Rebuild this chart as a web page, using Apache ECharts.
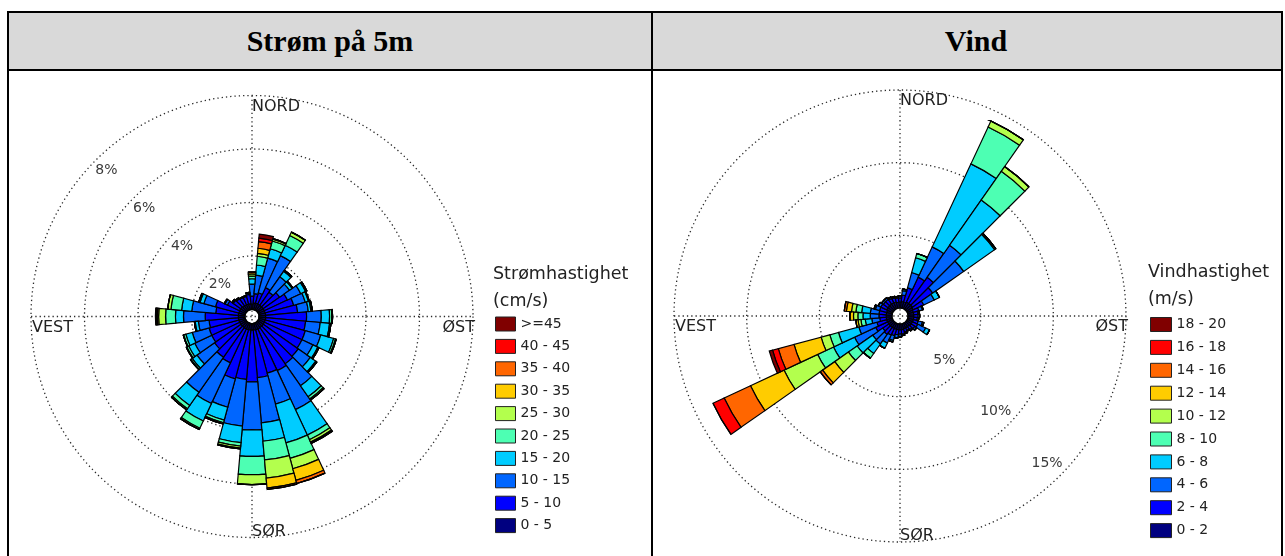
<!DOCTYPE html>
<html>
<head>
<meta charset="utf-8">
<title>Strøm og vind</title>
<script src="https://cdn.jsdelivr.net/npm/echarts@6/dist/echarts.min.js"></script>
<style>
  html, body { margin: 0; padding: 0; background: #fff; }
  #page { position: relative; width: 1285px; height: 556px; overflow: hidden; }
  .rule { position: absolute; background: #000; }
  .head {
    position: absolute; top: 13px; height: 56px; background: #d9d9d9;
    font: bold 30px "Liberation Serif", "Times New Roman", serif; color: #000;
    display: flex; align-items: center; justify-content: center; box-sizing: border-box;
  }
  #chart { position: absolute; left: 0; top: 0; width: 1285px; height: 556px; }
</style>
</head>
<body>
<div id="page">
  <div class="head" style="left:9px;width:642px;">Strøm på 5m</div>
  <div class="head" style="left:653px;width:628px;padding-left:18px;">Vind</div>
  <div class="rule" style="left:8px;top:11px;width:1275px;height:2px;"></div>
  <div class="rule" style="left:8px;top:69px;width:1275px;height:2px;"></div>
  <div class="rule" style="left:7px;top:11px;width:2px;height:545px;"></div>
  <div class="rule" style="left:651px;top:11px;width:2px;height:545px;"></div>
  <div class="rule" style="left:1281px;top:11px;width:2px;height:545px;"></div>
  <div id="chart"></div>
</div>
<script>
// Compass sectors, 10 degrees wide, centred on each direction
const directions = ['0','10','20','30','40','50','60','70','80','90','100','110',
  '120','130','140','150','160','170','180','190','200','210','220','230',
  '240','250','260','270','280','290','300','310','320','330','340','350'];

// Current-speed classes (cm/s) and wind-speed classes (m/s)
const stromBins = ['0 - 5','5 - 10','10 - 15','15 - 20','20 - 25','25 - 30','30 - 35','35 - 40','40 - 45','>=45'];
const vindBins = ['0 - 2','2 - 4','4 - 6','6 - 8','8 - 10','10 - 12','12 - 14','14 - 16','16 - 18','18 - 20'];
const binColors = ['#000080','#0000ff','#0066ff','#00ccff','#4dffb3','#b3ff4d','#ffcc00','#ff6600','#ff0000','#800000'];

// Ring ticks (percent of time)
const stromRings = [2, 4, 6, 8];
const stromRingLabels = ['2%', '4%', '6%', '8%'];
const vindRings = [5, 10, 15];
const vindRingLabels = ['5%', '10%', '15%'];
const compassLabels = ['NORD', 'ØST', 'SØR', 'VEST'];

// Current at 5 m: frequency (%) per direction for each speed class
const strom0to5   = [0.2,0.25,0.25,0.25,0.25,0.25,0.25,0.25,0.25,0.25,0.25,0.25,0.25,0.25,0.25,0.25,0.25,0.25,0.25,0.25,0.25,0.25,0.25,0.25,0.25,0.25,0.25,0.25,0.25,0.25,0.25,0.25,0.22,0.22,0.22,0.22];
const strom5to10  = [0.3,0.35,0.4,0.68,0.6,0.75,0.95,1.1,1.2,1.53,1.5,1.55,1.55,1.6,1.65,1.72,1.68,1.78,1.93,1.85,1.9,1.4,1.35,1.2,1.15,1.15,1.1,1.24,0.85,0.9,0.5,0.35,0.33,0.3,0.3,0.35];
const strom10to15 = [0.45,0.69,1.35,1.32,0.7,0.45,0.55,0.45,0.4,0.55,0.55,0.6,0.45,0.55,1.0,1.61,1.2,1.7,1.8,1.75,1.1,1.68,1.6,0.8,0.7,0.65,0.4,0.81,0.9,0.45,0.1,0.05,0.05,0.03,0.03,0.05];
const strom15to20 = [0.2,0.38,0.36,0.43,0.25,0.12,0.2,0.12,0.1,0.31,0.35,0.5,0.2,0.25,0.5,1.05,1.5,0.69,0.99,0.62,0.5,0.72,0.6,0.22,0.25,0.25,0.12,0.3,0.38,0.15,0.03,0,0,0,0,0.02];
const strom20to25 = [0.1,0.33,0.3,0.4,0.05,0.03,0.05,0.03,0.05,0.08,0.05,0.07,0.05,0.05,0.1,0.19,0.6,0.7,0.68,0.13,0.1,0.3,0.15,0.06,0.08,0.08,0.03,0.37,0.4,0.05,0,0,0,0,0,0];
const strom25to30 = [0.08,0.11,0.07,0.14,0,0,0,0,0,0.03,0,0.03,0,0,0.05,0.1,0.4,0.68,0.37,0.08,0.05,0.05,0.05,0.02,0.02,0.02,0,0.26,0.12,0,0,0,0,0,0,0];
const strom30to35 = [0.07,0.19,0.02,0,0,0,0,0,0,0,0,0,0,0,0,0.04,0.45,0.38,0,0.03,0,0,0,0,0,0,0,0.05,0,0,0,0,0,0,0,0];
const strom35to40 = [0,0.25,0,0,0,0,0,0,0,0,0,0,0,0,0,0.02,0.12,0.05,0,0,0,0,0,0,0,0,0,0.03,0,0,0,0,0,0,0,0];
const strom40to45 = [0,0.13,0,0,0,0,0,0,0,0,0,0,0,0,0,0,0,0,0,0,0,0,0,0,0,0,0,0.02,0,0,0,0,0,0,0,0];
const strom45up   = [0,0.15,0,0,0,0,0,0,0,0,0,0,0,0,0,0,0,0,0,0,0,0,0,0,0,0,0,0.02,0,0,0,0,0,0,0,0];

// Wind: frequency (%) per direction for each speed class
const vind0to2   = [0.4,0.45,0.45,0.5,0.5,0.5,0.45,0.4,0.4,0.4,0.4,0.4,0.4,0.4,0.35,0.35,0.35,0.4,0.4,0.4,0.4,0.4,0.4,0.4,0.4,0.4,0.4,0.4,0.4,0.4,0.45,0.45,0.45,0.45,0.45,0.4];
const vind2to4   = [0.3,0.45,1.0,1.9,2.2,1.7,0.8,0.4,0.3,0.3,0.25,0.35,0.4,0.3,0.25,0.2,0.25,0.3,0.3,0.35,0.45,0.5,0.6,0.5,0.9,0.7,0.45,0.5,0.5,0.5,0.45,0.4,0.4,0.35,0.3,0.3];
const vind4to6   = [0.15,0.3,1.1,2.3,2.7,2.6,0.8,0.25,0.1,0.1,0.1,0.3,0.6,0.15,0.1,0.05,0.1,0.1,0.15,0.2,0.35,0.6,0.8,0.85,1.6,1.28,0.55,0.6,0.6,0.3,0.2,0.15,0.15,0.1,0.1,0.1];
const vind6to8   = [0,0.1,1.05,6.3,3.8,2.6,0.4,0.05,0,0,0,0.1,0.3,0,0,0,0,0,0.05,0.05,0.1,0.4,0.8,1.3,1.6,1.45,0.45,0.5,0.6,0.1,0,0,0,0,0,0];
const vind8to10  = [0,0,0.3,2.8,2.4,0.1,0,0,0,0,0,0,0,0,0,0,0,0,0,0,0,0,0.4,0.73,1.2,0.62,0.3,0.35,0.4,0,0,0,0,0,0,0];
const vind10to12 = [0,0,0,0.45,0.4,0,0,0,0,0,0,0,0,0,0,0,0,0,0,0,0,0,0,1.15,2.56,0.62,0.2,0.3,0.3,0,0,0,0,0,0,0];
const vind12to14 = [0,0,0,0,0,0,0,0,0,0,0,0,0,0,0,0,0,0,0,0,0,0,0,1.02,2.54,1.93,0.15,0.25,0.35,0,0,0,0,0,0,0];
const vind14to16 = [0,0,0,0,0,0,0,0,0,0,0,0,0,0,0,0,0,0,0,0,0,0,0,0.2,2.0,1.12,0,0,0.15,0,0,0,0,0,0,0];
const vind16to18 = [0,0,0,0,0,0,0,0,0,0,0,0,0,0,0,0,0,0,0,0,0,0,0,0,0.85,0.41,0,0,0,0,0,0,0,0,0,0];
const vind18to20 = [0,0,0,0,0,0,0,0,0,0,0,0,0,0,0,0,0,0,0,0,0,0,0,0,0,0.23,0,0,0,0,0,0,0,0,0,0];

const stromValues = [strom0to5, strom5to10, strom10to15, strom15to20, strom20to25,
  strom25to30, strom30to35, strom35to40, strom40to45, strom45up];
const vindValues = [vind0to2, vind2to4, vind4to6, vind6to8, vind8to10,
  vind10to12, vind12to14, vind14to16, vind16to18, vind18to20];

// Geometry of the two roses (centre, hole radius, outer radius, axis max)
const roses = [
  { cx: 252, cy: 316.5, r0: 7, r1: 221, max: 8, interval: 2,
    rings: stromRings, ringLabels: stromRingLabels, labelAngle: 315, labelInset: 15 },
  { cx: 900, cy: 316, r0: 8, r1: 226, max: 15, interval: 5,
    rings: vindRings, ringLabels: vindRingLabels, labelAngle: 135, labelInset: 18 }
];

const FONT = '"DejaVu Sans", "Liberation Sans", Arial, sans-serif';
const DOT = [1.3, 3];
const dotted = { color: '#2a2a2a', width: 1.3, type: DOT };

function ringRadius(rose, v) {
  return rose.r0 + (v / rose.max) * (rose.r1 - rose.r0);
}

function roseGraphics(rose) {
  const els = [];
  const { cx, cy, r1 } = rose;
  // cardinal cross
  const cross = { stroke: dotted.color, lineWidth: 1.3, lineDash: DOT };
  els.push({ type: 'line', z: 1, silent: true, shape: { x1: cx - r1, y1: cy, x2: cx + r1, y2: cy }, style: cross });
  els.push({ type: 'line', z: 1, silent: true, shape: { x1: cx, y1: cy - r1, x2: cx, y2: cy + r1 }, style: cross });
  // ring labels along a diagonal
  const a = rose.labelAngle * Math.PI / 180;
  rose.rings.forEach((v, i) => {
    const r = ringRadius(rose, v) - rose.labelInset;
    els.push({ type: 'text', z: 10, silent: true,
      x: cx + r * Math.sin(a), y: cy - r * Math.cos(a),
      style: { text: rose.ringLabels[i], fill: '#3a3a3a', font: '14px ' + FONT,
        align: 'center', verticalAlign: 'middle' } });
  });
  // compass names
  const txt = (text, x, y, align) => ({ type: 'text', z: 10, silent: true, x, y,
    style: { text, fill: '#222', font: '16px ' + FONT, align, verticalAlign: 'middle' } });
  els.push(txt(compassLabels[0], cx, cy - r1 + 11, 'left'));
  els.push(txt(compassLabels[1], cx + r1 + 2, cy + 11, 'right'));
  els.push(txt(compassLabels[2], cx, cy + r1 - 6, 'left'));
  els.push(txt(compassLabels[3], cx - r1 + 1, cy + 11, 'left'));
  return els;
}

function stackSeries(names, values, polarIndex, stack) {
  return names.map((name, i) => ({
    type: 'bar', name, coordinateSystem: 'polar', polarIndex, stack,
    data: values[i], barCategoryGap: '0%', silent: true,
    itemStyle: { color: binColors[i], borderColor: '#000', borderWidth: 1.2 }
  }));
}

const legendCommon = {
  orient: 'vertical', icon: 'rect', selectedMode: false, padding: 0,
  itemHeight: 14,
  textStyle: { fontSize: 14, fontFamily: FONT, color: '#222', lineHeight: 14 },
  itemStyle: { borderColor: '#222', borderWidth: 1 }
};

const chart = echarts.init(document.getElementById('chart'), null, { renderer: 'canvas' });
chart.setOption({
  animation: false,
  backgroundColor: 'transparent',
  title: [
    { text: 'Strømhastighet\n(cm/s)', left: 493, top: 261, padding: 0,
      textStyle: { fontSize: 17.5, fontWeight: 'normal', fontFamily: FONT, color: '#222', lineHeight: 27 } },
    { text: 'Vindhastighet\n(m/s)', left: 1148, top: 259, padding: 0,
      textStyle: { fontSize: 17.5, fontWeight: 'normal', fontFamily: FONT, color: '#222', lineHeight: 27 } }
  ],
  legend: [
    Object.assign({}, legendCommon, { data: stromBins.slice().reverse(), left: 495, top: 316.5,
      itemWidth: 20, itemGap: 7.4 }),
    Object.assign({}, legendCommon, { data: vindBins.slice().reverse(), left: 1150, top: 317,
      itemWidth: 21, itemGap: 7.9 })
  ],
  polar: roses.map(r => ({ center: [r.cx, r.cy], radius: [r.r0, r.r1] })),
  angleAxis: roses.map((r, i) => ({
    polarIndex: i, type: 'category', data: directions, startAngle: 95, clockwise: true,
    axisLine: { show: false }, axisTick: { show: false }, axisLabel: { show: false },
    splitLine: { show: false }, splitArea: { show: false }
  })),
  radiusAxis: roses.map((r, i) => ({
    polarIndex: i, type: 'value', min: 0, max: r.max, interval: r.interval,
    axisLine: { show: false }, axisTick: { show: false }, axisLabel: { show: false },
    splitLine: { show: true, lineStyle: dotted }, splitArea: { show: false }
  })),
  graphic: { elements: roseGraphics(roses[0]).concat(roseGraphics(roses[1])) },
  series: stackSeries(stromBins, stromValues, 0, 'strom')
    .concat(stackSeries(vindBins, vindValues, 1, 'vind'))
});
</script>
</body>
</html>
